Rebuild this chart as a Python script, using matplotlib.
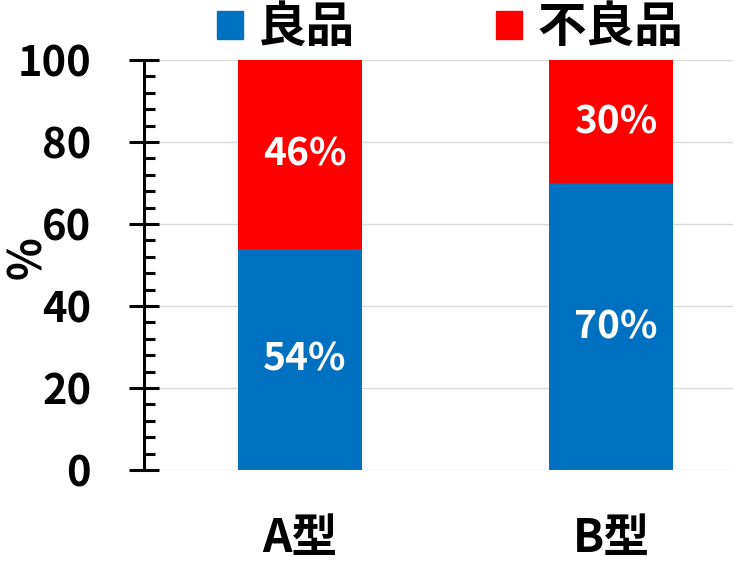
import matplotlib
matplotlib.use('Agg')
import matplotlib.pyplot as plt
from matplotlib.patches import Patch
from matplotlib.ticker import MultipleLocator

plt.rcParams['font.family'] = ['Noto Sans CJK JP', 'DejaVu Sans']
plt.rcParams['font.weight'] = 'bold'

categories = ['A型', 'B型']
good = [54, 70]
bad = [46, 30]
series_names = ['良品', '不良品']
colors = ['#0070C0', '#FF0000']

fig = plt.figure(figsize=(7.45, 5.63), dpi=100)
ax = fig.add_axes([0.1933, 0.1652, 0.7906, 0.7282])

x = list(range(len(categories)))
b1 = ax.bar(x, good, width=0.4, color=colors[0], zorder=2)
b2 = ax.bar(x, bad, width=0.4, bottom=good, color=colors[1], zorder=2)

for bars, vals, bottoms in [(b1, good, [0] * len(good)), (b2, bad, good)]:
    for rect, v, b in zip(bars, vals, bottoms):
        ax.text(rect.get_x() + rect.get_width() / 2 + 0.015, b + v / 2, f'{v}%',
                ha='center', va='center', color='white', fontsize=28,
                fontweight='bold', zorder=3)

ax.set_xlim(-0.502, 1.392)
ax.set_ylim(0, 100)
ax.yaxis.set_major_locator(MultipleLocator(20))
ax.yaxis.set_minor_locator(MultipleLocator(4))
ax.grid(axis='y', color='#d9d9d9', linewidth=1, zorder=0)

for s in ['top', 'right', 'bottom']:
    ax.spines[s].set_visible(False)
ax.spines['left'].set_linewidth(2.2)

ax.tick_params(axis='y', which='major', direction='inout', length=22, width=2.2,
               labelsize=30, pad=27)
ax.tick_params(axis='y', which='minor', direction='in', length=8, width=2.2)
ax.tick_params(axis='x', length=0, labelsize=33, pad=33)
ax.set_xticks(x)
ax.set_xticklabels(categories, fontweight='bold')
for lbl in ax.get_yticklabels():
    lbl.set_fontweight('bold')

ax.set_ylabel('%', fontsize=32, fontweight='bold')
ax.yaxis.set_label_coords(-0.158, 0.517)

handles = [Patch(color=c) for c in colors]
fig.legend(handles, series_names, loc='center', bbox_to_anchor=(0.604, 0.951),
           ncol=2, frameon=False, fontsize=35, handlelength=0.53, handleheight=0.53,
           columnspacing=2.9, handletextpad=0.31)

fig.savefig('out.png', dpi=100)
